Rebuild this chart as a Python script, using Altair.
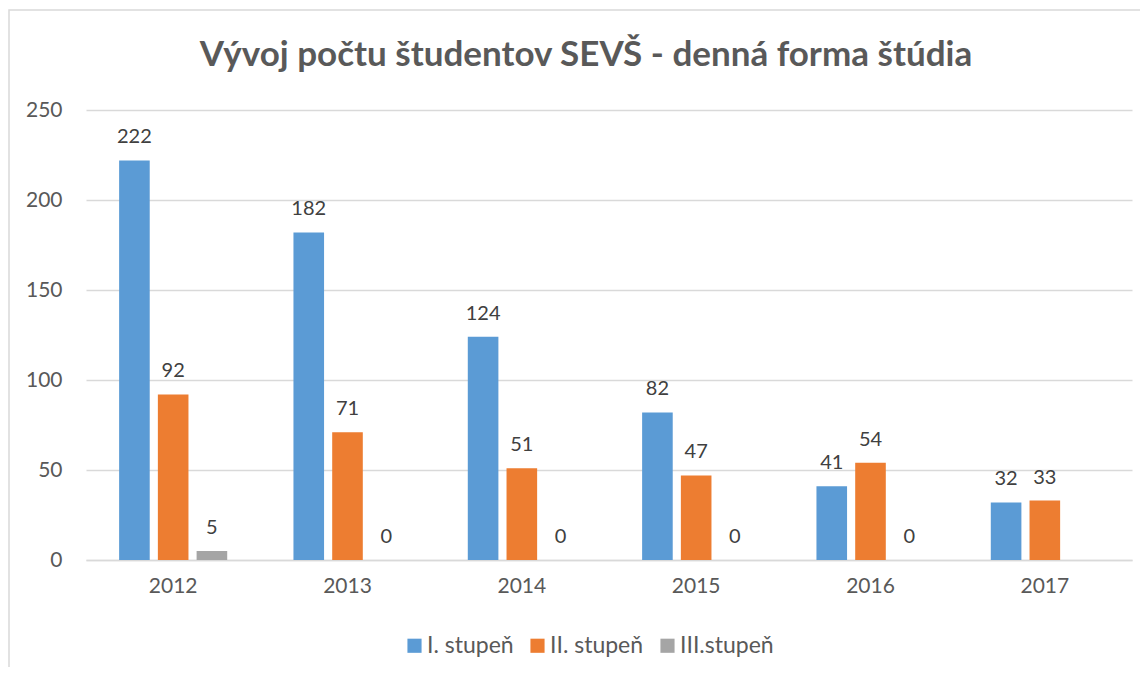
import altair as alt
import pandas as pd

years = ["2012", "2013", "2014", "2015", "2016", "2017"]
series = ["I. stupeň", "II. stupeň", "III.stupeň"]
values_I = [222, 182, 124, 82, 41, 32]
values_II = [92, 71, 51, 47, 54, 33]
values_III = [5, 0, 0, 0, 0, None]
colors = ["#5B9BD5", "#ED7D31", "#A5A5A5"]
title_text = "Vývoj počtu študentov SEVŠ - denná forma štúdia"

rows = []
for s, vals in zip(series, [values_I, values_II, values_III]):
    for y, v in zip(years, vals):
        rows.append({"rok": y, "stupen": s, "pocet": v})
df = pd.DataFrame(rows)

FONT = "Lato"

x = alt.X("rok:N", sort=years, title=None,
          scale=alt.Scale(paddingInner=0.38, paddingOuter=0.19),
          axis=alt.Axis(labelAngle=0, labelFontSize=21, labelColor="#595959",
                        labelFont=FONT, labelPadding=15, ticks=False,
                        domainColor="#D9D9D9", domainWidth=1.5))
xo = alt.XOffset("stupen:N", sort=series,
                 scale=alt.Scale(paddingInner=0.21, paddingOuter=0))
y = alt.Y("pocet:Q", title=None,
          scale=alt.Scale(domain=[0, 250], nice=False),
          axis=alt.Axis(values=[0, 50, 100, 150, 200, 250], labelFontSize=21,
                        labelColor="#595959", labelFont=FONT, labelPadding=24,
                        ticks=False, domain=False, gridColor="#D9D9D9",
                        gridWidth=1.5))
color = alt.Color("stupen:N", sort=series,
                  scale=alt.Scale(domain=series, range=colors),
                  legend=alt.Legend(orient="none", direction="horizontal",
                                    legendX=317, legendY=524, title=None,
                                    symbolType="square", symbolSize=200,
                                    symbolStrokeWidth=0, labelFontSize=23,
                                    labelFont=FONT, labelColor="#595959",
                                    columnPadding=12, padding=0, labelOffset=1))

base = alt.Chart(df)
bars = base.mark_bar().encode(x=x, xOffset=xo, y=y, color=color)
labels = base.mark_text(baseline="alphabetic", dy=-17, fontSize=20,
                        font=FONT, color="#404040").encode(
    x=x, xOffset=xo, y=y, text=alt.Text("pocet:Q", format="d"))

border = alt.Chart(pd.DataFrame({"a": [0]})).mark_rect(
    fill=None, stroke="#D9D9D9", strokeWidth=1.5).encode(
    x=alt.value(-77), x2=alt.value(1200), y=alt.value(-100), y2=alt.value(700))

chart = alt.layer(border, bars, labels).properties(
    width=1046, height=450,
    title=alt.TitleParams(title_text, fontSize=35, font=FONT, fontWeight="bold",
                          color="#595959", anchor="middle", frame="group",
                          dx=-23, offset=-64),
    autosize=alt.AutoSizeParams(type="none"),
    padding={"left": 78, "top": 102, "right": 8, "bottom": 107},
).configure_view(stroke=None)

chart.save("out.html", embed_options={"renderer": "svg", "actions": False})
